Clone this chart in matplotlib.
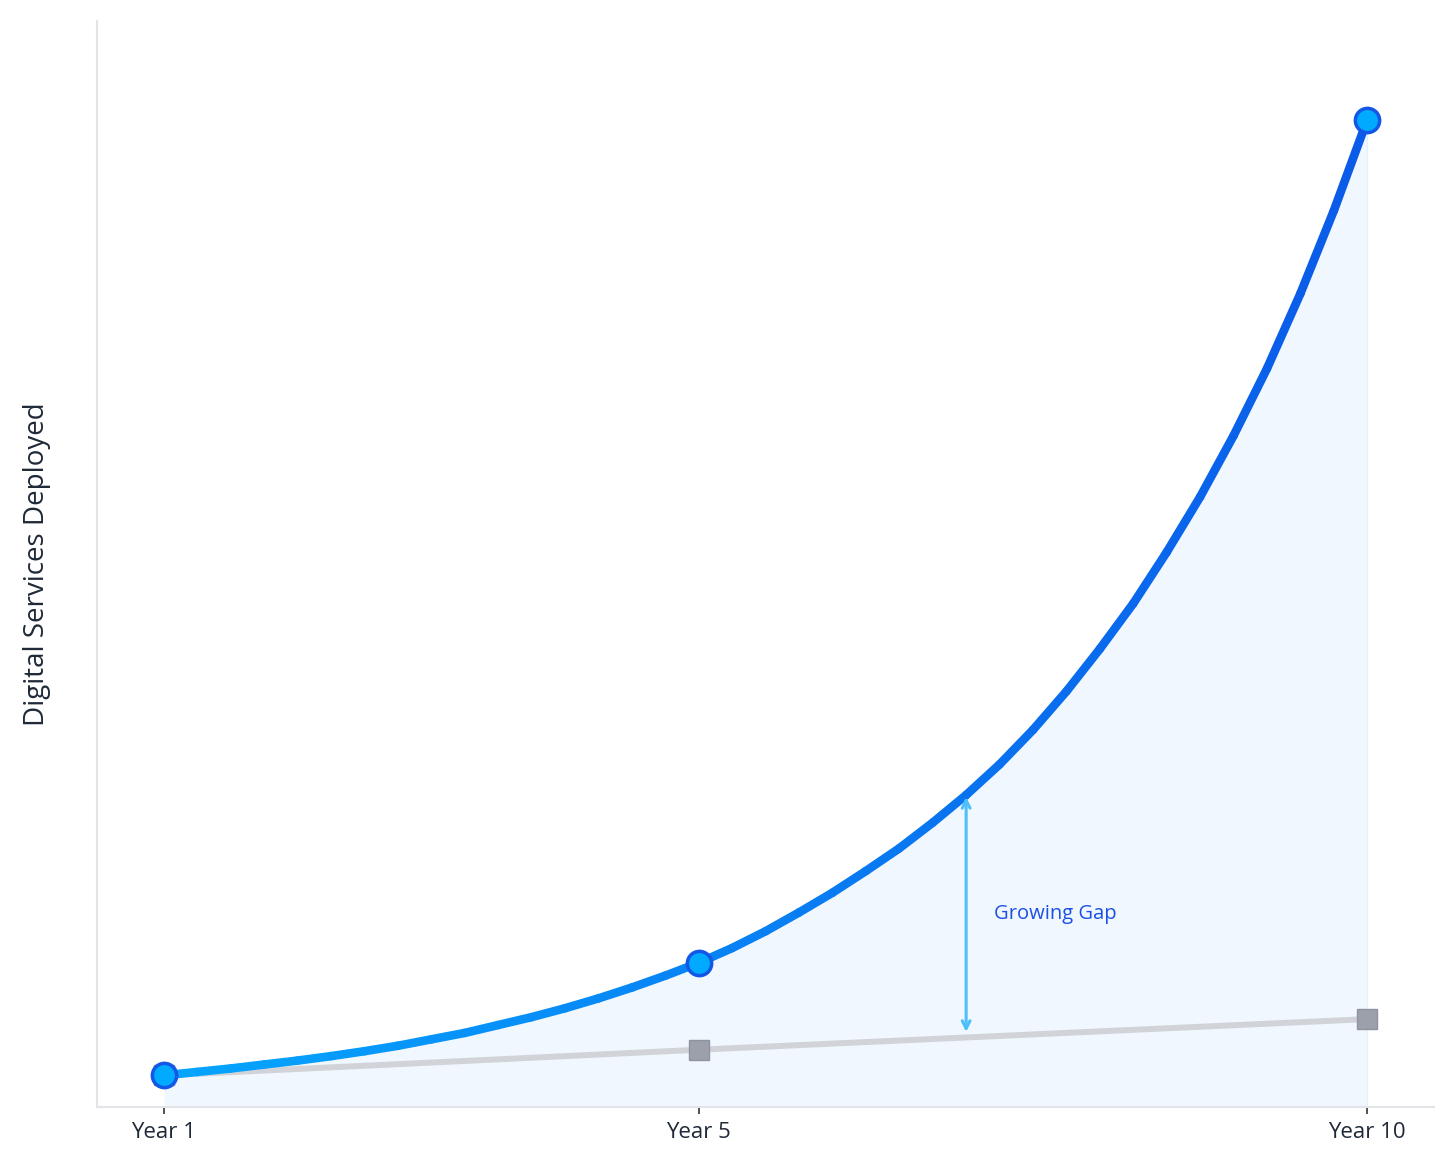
import matplotlib
matplotlib.use("Agg")
import matplotlib.pyplot as plt
import numpy as np
from matplotlib.collections import LineCollection
from matplotlib.colors import to_rgb

# ---- data ----
tick_years = [1, 5, 10]
tick_labels = ["Year 1", "Year 5", "Year 10"]

marker_years = [1, 5, 10]
digital_values = [3.2, 14.6, 100.0]
traditional_values = [3.2, 5.8, 8.9]

curve_years = [1, 1.25, 1.5, 1.75, 2, 2.25, 2.5, 2.75, 3, 3.25, 3.5, 3.75, 4, 4.25, 4.5,
               4.75, 5, 5.25, 5.5, 5.75, 6, 6.25, 6.5, 6.75, 7, 7.25, 7.5, 7.75, 8, 8.25,
               8.5, 8.75, 9, 9.25, 9.5, 9.75, 10]
curve_values = [3.2, 3.55, 3.9, 4.3, 4.7, 5.15, 5.65, 6.2, 6.85, 7.5, 8.3, 9.1, 10.0, 11.0,
                12.1, 13.3, 14.6, 16.1, 17.8, 19.7, 21.7, 23.9, 26.2, 28.8, 31.6, 34.7,
                38.2, 42.1, 46.4, 51.0, 56.2, 61.8, 68.0, 74.8, 82.4, 90.8, 100.0]

gap_year = 7
gap_top = 31.4
gap_bottom = 7.6
gap_label = "Growing Gap"
y_label = "Digital Services Deployed"

plt.rcParams['font.family'] = ['Open Sans', 'DejaVu Sans']

fig = plt.figure(figsize=(14.56, 11.65), dpi=100)
ax = fig.add_axes([0.0666, 0.0498, 0.985 - 0.0666, 0.982 - 0.0498])

# fill under the curve
ax.fill_between(curve_years, 0, curve_values, color="#F0F7FE", zorder=1, linewidth=0)
ax.plot([10, 10], [0, 100], color="#E6F0FC", lw=1, zorder=1)

# traditional (gray) line
ax.plot(marker_years, traditional_values, color="#D1D3D9", lw=4.3, zorder=2,
        solid_capstyle="butt")
ax.plot(marker_years, traditional_values, linestyle="none", marker="s", ms=15,
        mfc="#9CA0AA", mec="#8E939E", mew=1, zorder=3)

# gradient blue curve
pts = np.column_stack([curve_years, curve_values])
segs = np.stack([pts[:-1], pts[1:]], axis=1)
c0 = np.array(to_rgb("#05A6FF"))
c1 = np.array(to_rgb("#0A5AE8"))
xs = np.asarray(curve_years, dtype=float)
frac = ((xs[:-1] + xs[1:]) / 2 - xs.min()) / (xs.max() - xs.min())
cols = [tuple(c0 + (c1 - c0) * f) for f in frac]
lc = LineCollection(segs, colors=cols, linewidths=6.2, capstyle="round", joinstyle="round", zorder=4)
ax.add_collection(lc)

ax.plot(marker_years, digital_values, linestyle="none", marker="o", ms=17.5,
        mfc="#00AAFF", mec="#1457E6", mew=2.5, zorder=6)

# gap annotation
ax.annotate("", xy=(gap_year, gap_top), xytext=(gap_year, gap_bottom),
            arrowprops=dict(arrowstyle="<->", color="#4DBFFA", lw=2.2,
                            mutation_scale=14, shrinkA=0, shrinkB=0),
            zorder=5)
ax.text(gap_year + 0.21, 19.5, gap_label, color="#1A50E6", fontsize=14.5,
        ha="left", va="center", zorder=6)

ax.set_xlim(0.5, 10.5)
ax.set_ylim(0, 110)
ax.set_xticks(tick_years)
ax.set_xticklabels(tick_labels, fontsize=16, color="#1F2937")
ax.set_yticks([])
ax.tick_params(axis="x", length=5, width=1.2, color="#333333", pad=6)
for s in ["top", "right"]:
    ax.spines[s].set_visible(False)
for s in ["left", "bottom"]:
    ax.spines[s].set_color("#E3E4EA")
    ax.spines[s].set_linewidth(1.5)
ax.set_ylabel(y_label, fontsize=20, color="#1F2937", labelpad=33)

fig.savefig("out.png", dpi=100, facecolor="white")
